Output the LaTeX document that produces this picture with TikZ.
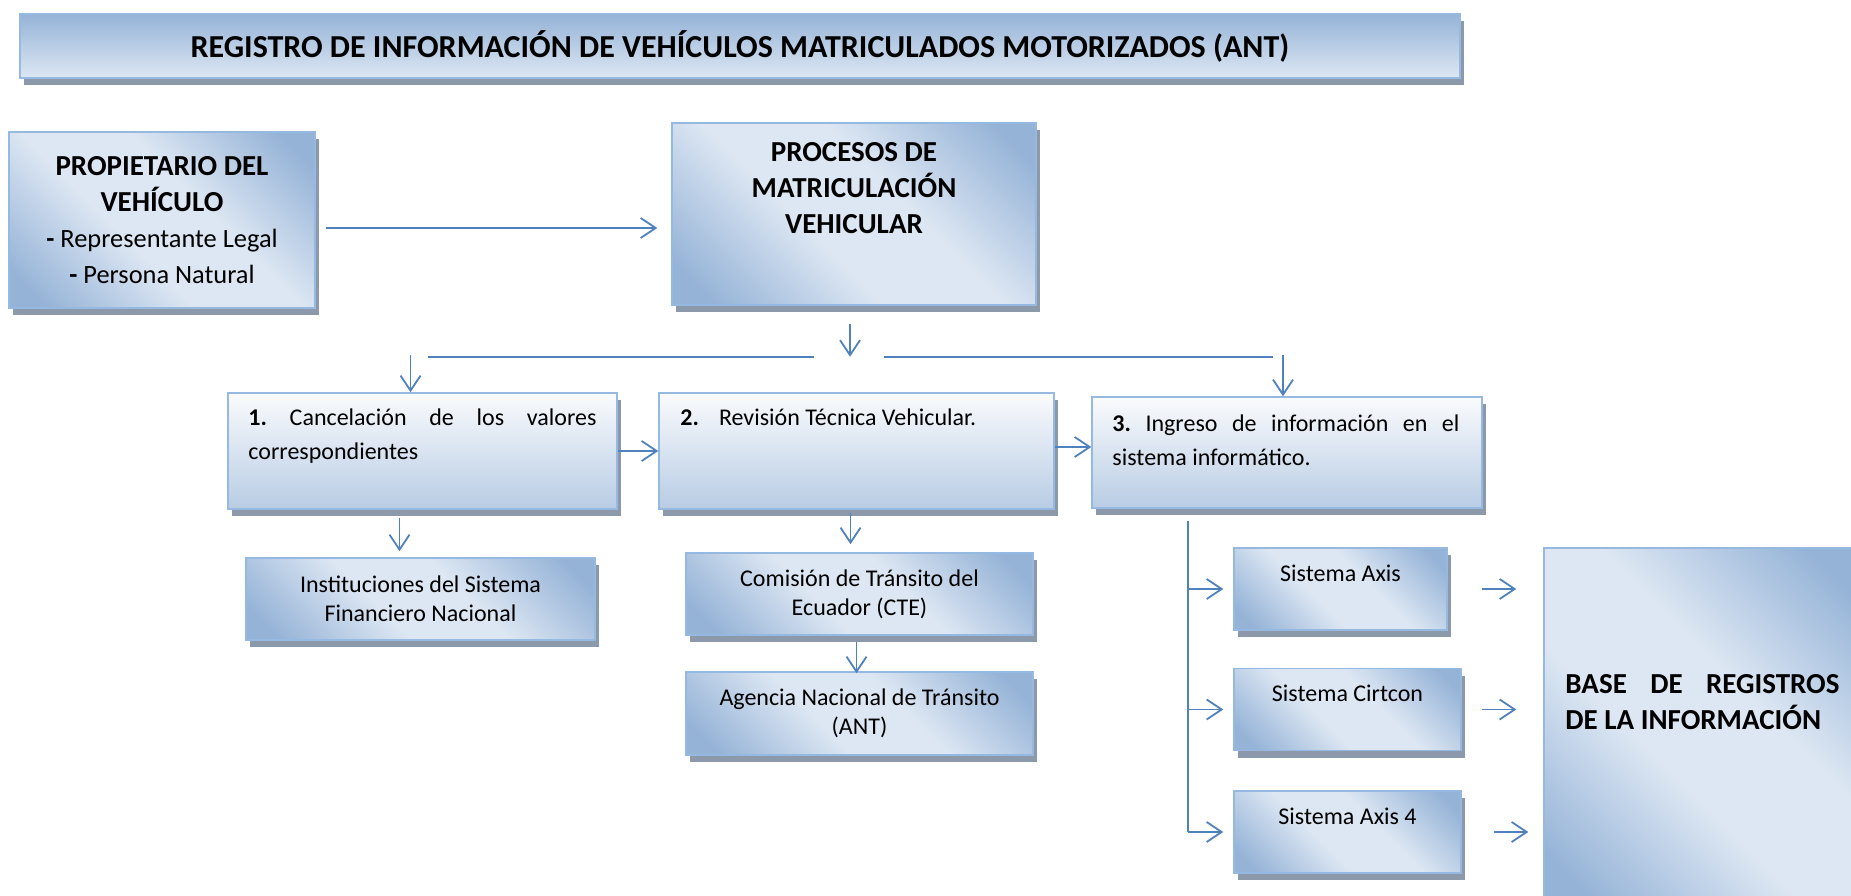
\documentclass[tikz,border=0pt]{standalone}
\usepackage{fontspec}
\setmainfont{Carlito}
\usetikzlibrary{arrows.meta,calc,shadows,positioning}

\definecolor{boxblue}{RGB}{149,179,215}
\definecolor{boxlight}{RGB}{221,231,243}
\definecolor{boxedge}{RGB}{150,185,225}
\definecolor{shadowgray}{RGB}{140,153,170}
\definecolor{arrowblue}{RGB}{79,129,189}
\definecolor{steptop}{RGB}{250,251,253}
\definecolor{stepbottom}{RGB}{184,204,228}

\pgfdeclareverticalshading{diagfill}{100bp}{color(0bp)=(boxblue); color(20bp)=(boxblue); color(42bp)=(boxlight); color(58bp)=(boxlight); color(80bp)=(boxblue); color(100bp)=(boxblue)}

\newcommand{\subtxt}{\fontsize{26.4}{36}\selectfont\mdseries}
\frenchspacing

\tikzset{
  basebox/.style={draw=boxedge, line width=1.5pt,
    drop shadow={shadow xshift=4pt, shadow yshift=-7pt, fill=shadowgray, opacity=1}},
  gradbox/.style={basebox, shade, shading=diagfill, shading angle=-45},
  stepbox/.style={basebox, top color=steptop, bottom color=stepbottom},
  titlebox/.style={basebox, top color=boxblue, bottom color=boxlight},
  hdtext/.style={font=\fontsize{29}{36}\selectfont\bfseries},
  txt/.style={font=\fontsize{24}{29.3}\selectfont},
  steptext/.style={font=\fontsize{24}{34}\selectfont, align=justify, inner sep=0pt},
  arr/.style={draw=arrowblue, line width=1.8pt, -{Straight Barb[length=15pt,width=20pt]}},
  conn/.style={draw=arrowblue, line width=1.8pt}
}

\begin{document}
\begin{tikzpicture}[x=1pt, y=-1pt]
  \useasboundingbox (0,0) rectangle (1851,896);

  % encabezado
  \node[titlebox, font=\fontsize{32}{38}\selectfont\bfseries, minimum width=1440pt, minimum height=64pt] (title) at (740,46)
    {REGISTRO DE INFORMACIÓN DE VEHÍCULOS MATRICULADOS MOTORIZADOS (ANT)};

  % propietario y procesos
  \node[gradbox, hdtext, align=center, minimum width=306pt, minimum height=176pt] (prop) at (162,220)
    {PROPIETARIO DEL\\VEHÍCULO\\{\subtxt\textbf{-} Representante Legal}\\{\subtxt\textbf{-} Persona Natural}};
  \node[gradbox, minimum width=364pt, minimum height=182pt] (proc) at (854,214) {};
  \node[hdtext, align=center, anchor=north, inner sep=0pt] (proctxt) at ($(proc.north)+(0,20)$)
    {PROCESOS DE\\MATRICULACIÓN\\VEHICULAR};

  % los tres pasos
  \node[stepbox, minimum width=389pt, minimum height=116pt] (cancel) at (422.5,451) {};
  \node[stepbox, minimum width=395pt, minimum height=116pt] (revision) at (856.5,451) {};
  \node[stepbox, minimum width=390pt, minimum height=111pt] (ingreso) at (1287,452.5) {};
  \node[steptext, text width=348pt, anchor=base west] (canceltxt) at ($(cancel.north west)+(21,33)$)
    {\textbf{1.} Cancelación de los valores\linebreak correspondientes};
  \node[steptext, anchor=base west] (revisiontxt) at ($(revision.north west)+(22,33)$)
    {\textbf{2.}\hspace{20pt}Revisión Técnica Vehicular.};
  \node[steptext, text width=347pt, anchor=base west] (ingresotxt) at ($(ingreso.north west)+(21,35)$)
    {\textbf{3.} Ingreso de información en el\linebreak sistema informático.};

  % entidades
  \node[gradbox, txt, align=center, minimum width=349pt, minimum height=82pt] (inst) at (420.5,599)
    {Instituciones del Sistema\\Financiero Nacional};
  \node[gradbox, txt, align=center, minimum width=347pt, minimum height=82pt] (cte) at (859.5,594)
    {Comisión de Tránsito del\\Ecuador (CTE)};
  \node[gradbox, txt, align=center, minimum width=347pt, minimum height=83pt] (ant) at (859.5,713.5)
    {Agencia Nacional de Tránsito\\(ANT)};

  % sistemas
  \foreach \b/\cx/\cy/\w/\t in {axis/1340.5/589/213/Sistema Axis,
      cirtcon/1347.5/709.5/227/Sistema Cirtcon, axis4/1347.5/832/227/Sistema Axis 4}{
    \node[gradbox, minimum width=\w pt, minimum height=82pt] (\b) at (\cx,\cy) {};
    \node[txt, anchor=base] (txt-\b) at ($(\b.north)+(0,34)$) {\t};
  }

  % base de registros
  \node[gradbox, minimum width=316pt, minimum height=357pt] (base) at (1702,726.5) {};
  \node[hdtext, text width=274pt, align=justify, anchor=base west, inner sep=0pt] (basetxt)
    at ($(base.north west)+(22,146)$) {BASE DE REGISTROS\linebreak DE LA INFORMACIÓN};

  % flechas
  \draw[arr] ($(prop.east)+(10,8)$) -- ($(proc.west)+(-14,14)$);
  \coordinate (split) at ($(proc.south)+(-4,51)$);
  \draw[arr] ($(proc.south)+(-4,18)$) -- (split);
  \draw[conn] ($(split)+(-36,0)$) -- ($(split)+(-422,0)$);
  \draw[conn] ($(split)+(34,0)$) -- ($(split)+(423,0)$);
  \draw[arr] ($(cancel.north)+(-12,-37)$) -- ($(cancel.north)+(-12,0)$);
  \draw[arr] ($(ingreso.north)+(-4,-41)$) -- ($(ingreso.north)+(-4,0)$);
  \draw[arr] (cancel) -- (revision);
  \draw[arr] ($(revision.east)+(0,-4)$) -- ($(revision.east -| ingreso.west)+(0,-4)$);
  \draw[arr] ($(cancel.south)+(-23,8)$) -- ($(inst.north)+(-21,-6)$);
  \draw[arr] ($(revision.south)+(-6,3)$) -- ($(cte.north)+(-9,-8)$);
  \draw[arr] ($(cte.south)+(-3,6)$) -- ($(ant.north)+(-3,2)$);

  \coordinate (trunk) at ($(ingreso.south)+(-99,12)$);
  \draw[conn] (trunk) -- (trunk |- axis4.west);
  \foreach \b in {axis,cirtcon,axis4}
    \draw[arr, shorten >=10pt] (trunk |- \b.west) -- (\b.west);
  \foreach \b/\d in {axis/27,cirtcon/27,axis4/15}
    \draw[arr, shorten >=\d pt] ($(\b.east -| base.west)+(-\d-34,0)$) -- (\b.east -| base.west);
\end{tikzpicture}
\end{document}
